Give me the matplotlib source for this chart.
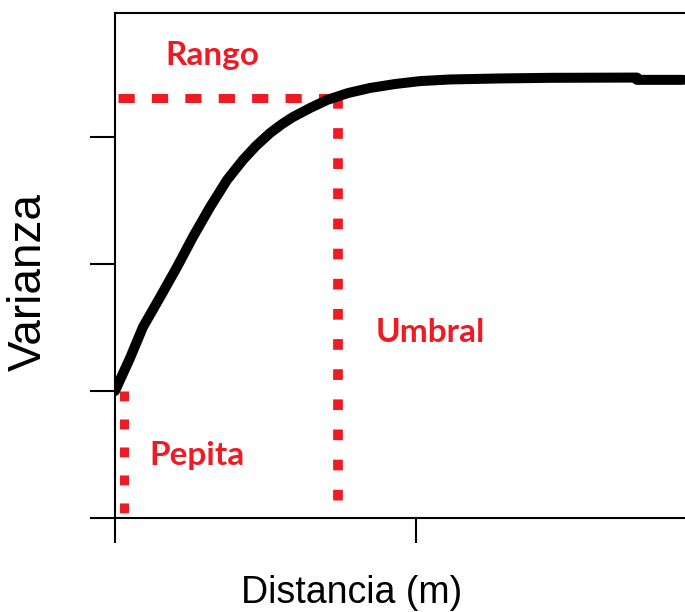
import matplotlib
matplotlib.use("Agg")
import matplotlib.pyplot as plt
import numpy as np

#%% data

# semivariogram curve
dist = [0.0, 0.050, 0.093, 0.150, 0.206, 0.259, 0.316, 0.372, 0.425,
        0.468, 0.515, 0.555, 0.591, 0.648, 0.704, 0.774, 0.847, 0.930,
        1.013, 1.113, 1.279, 1.450, 1.734, 1.734, 1.887]
var = [1.0, 1.260, 1.504, 1.740, 1.976, 2.213, 2.449, 2.661, 2.819,
       2.929, 3.031, 3.102, 3.157, 3.228, 3.291, 3.346, 3.386, 3.417,
       3.440, 3.453, 3.461, 3.466, 3.468, 3.450, 3.450]

# nugget / sill / range markers
nugget = 1.0
nugget_x = 0.03
sill = 3.31
rango = 0.742

xticks = [0, 1]
yticks = [0, 1, 2, 3]

red = "#ED1C24"

#%% plot

fig = plt.figure(figsize=(6.85, 6.12), dpi=100)
ax = fig.add_axes([115/685, 94/612, 1 - 115/685, 505/612])

ax.plot([0.01, rango], [sill, sill], color=red, lw=6.5,
        dashes=(1.8, 1.9), zorder=2)
ax.plot([rango, rango], [sill, 0], color=red, lw=7,
        dashes=(1.1, 2.0), zorder=2)
ax.plot([nugget_x, nugget_x], [nugget, 0], color=red, lw=6.5,
        dashes=(1.1, 2.0), zorder=2)

ax.plot(dist, var, color="k", lw=7.2, solid_capstyle="round",
        solid_joinstyle="round", zorder=3)

ax.set_xlim(0, 570/301)
ax.set_ylim(0, 505/127)
ax.set_xticks(xticks)
ax.set_yticks(yticks)
ax.set_xticklabels([])
ax.set_yticklabels([])
ax.tick_params(length=18, width=1.5, direction="out")
ax.spines["right"].set_visible(False)
for s in ["left", "bottom", "top"]:
    ax.spines[s].set_linewidth(1.5)

lbl = dict(color=red, fontsize=24, fontweight="bold", family="Lato",
           ha="center", va="baseline")
ax.text(0.322, 3.57, "Rango", **lbl)
ax.text(1.047, 1.386, "Umbral", **lbl)
ax.text(0.272, 0.42, "Pepita", **lbl)

fig.text(352/685, 1 - 603/612, "Distancia (m)", family="Liberation Sans",
         fontsize=27, ha="center", va="baseline")
fig.text(29/685, 1 - 282/612, "Varianza", family="Liberation Sans",
         fontsize=33, rotation=90, ha="center", va="center")

plt.savefig("out.png", dpi=100)
